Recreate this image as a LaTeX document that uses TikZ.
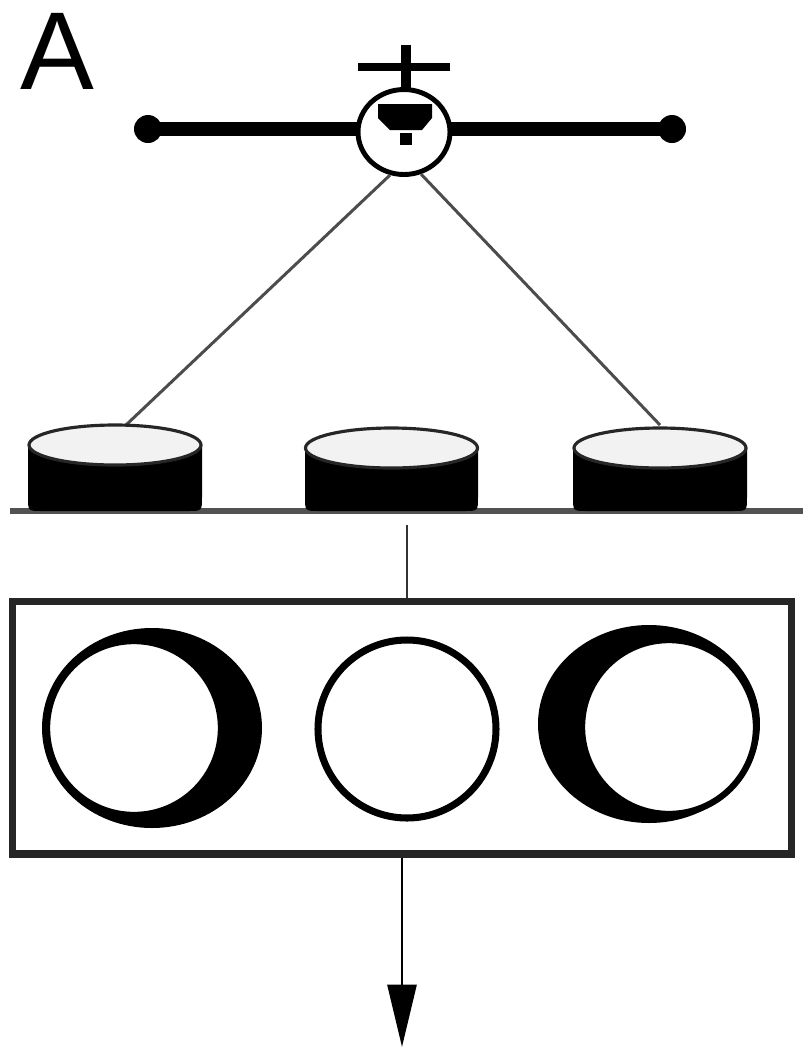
\documentclass[tikz,border=0pt]{standalone}
\usepackage{fontspec}
\setsansfont{Liberation Sans}
\usetikzlibrary{positioning,shapes.geometric,arrows.meta}

\begin{document}
\begin{tikzpicture}[
		x=0.02cm, y=-0.02cm,
		wing/.style = {line width=8pt},
		stay/.style = {draw=black!70, line width=1.7pt},
		dishtop/.style = {fill=black!5, draw=black!85, line width=1.8pt},
		ring/.style = {draw, fill=white, line width=3.6pt},
		frame/.style = {draw=black!85, line width=4pt, minimum width=15.6cm, minimum height=5.06cm, inner sep=0pt}
	]
	\useasboundingbox (0,0) rectangle (809,1049);
	\node[font=\sffamily\fontsize{63}{63}\selectfont, inner sep=0pt] (panel) at (57,51) {A};
	% Plane.
	\coordinate (wingL) at (148,129);
	\coordinate (wingR) at (672,129);
	\draw[wing] (wingL) -- (wingR);
	\fill (wingL) circle [radius=14];
	\fill (wingR) circle [radius=14];
	\draw[line width=6pt] (406,45) -- (406,90);
	\draw[line width=4.5pt] (358,67) -- (450,67);
	\node[draw, ellipse, fill=white, line width=2.8pt, minimum width=1.84cm, minimum height=1.7cm] (body) at (404,132) {};
	\fill (378,104) -- (432,104) -- (432,118) -- (422,130) -- (390,130) -- (378,118) -- cycle;
	\fill (400,133) rectangle (412,145);
	% Dishes.
	\coordinate (mountL) at (126,425);
	\coordinate (mountR) at (660,425);
	\draw[stay] (body.-108) -- (mountL);
	\draw[stay] (body.-68) -- (mountR);
	\coordinate (groundL) at (10,511);
	\coordinate (groundR) at (803,511);
	\draw[black!68, line width=3.4pt] (groundL) -- (groundR);
	\fill (28,445) -- (28,497) .. controls (28,511) .. (42,511) -- (188,511) .. controls (202,511) .. (202,497) -- (202,445) -- cycle;
	\draw[dishtop] (115,445) ellipse [x radius=86, y radius=20];
	\fill (305,448) -- (305,497) .. controls (305,511) .. (319,511) -- (464,511) .. controls (478,511) .. (478,497) -- (478,448) -- cycle;
	\draw[dishtop] (391.5,448) ellipse [x radius=86, y radius=20];
	\fill (573,448) -- (573,497) .. controls (573,511) .. (587,511) -- (733,511) .. controls (747,511) .. (747,497) -- (747,448) -- cycle;
	\draw[dishtop] (660,448) ellipse [x radius=86, y radius=20];
	% Image panel.
	\node[frame] (box) at (402,727.5) {};
	\coordinate (feed) at (407,525);
	\draw[black!80, line width=1.7pt] (feed) -- (feed |- box.north);
	\fill (152,728) ellipse [x radius=110, y radius=100];
	\draw[ring] (134,728) circle [radius=87];
	\draw[ring, line width=4pt] (407,729) circle [radius=89];
	\fill (649,724) ellipse [x radius=111, y radius=99];
	\draw[ring] (669,727) circle [radius=87];
	% Output.
	\coordinate (out) at (402,1047);
	\draw[line width=1.7pt, -{Triangle[length=1.25cm, width=0.58cm]}] (box.south) -- (out);
\end{tikzpicture}
\end{document}
